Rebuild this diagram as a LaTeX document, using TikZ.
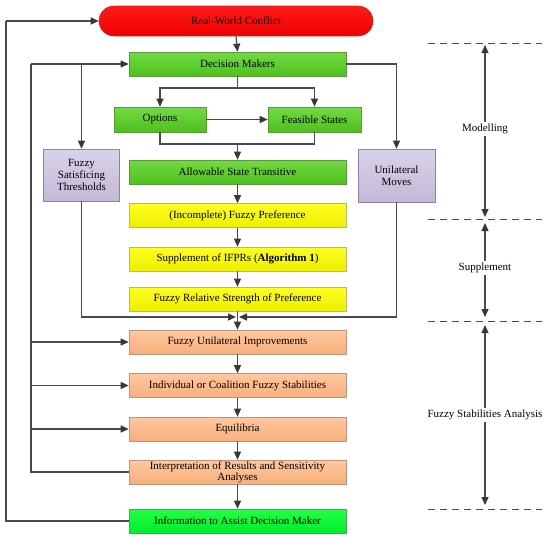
\documentclass[tikz,border=0pt]{standalone}
\usepackage{fontspec}
\setmainfont{Liberation Serif}
\usetikzlibrary{arrows.meta}
\definecolor{ln}{HTML}{4A4A4A}
\definecolor{tip}{HTML}{383838}
\tikzset{
  every node/.style={font=\fontsize{11}{12}\selectfont, text=black},
  box/.style={draw, line width=0.6pt, inner sep=1pt, align=center, anchor=center},
  wbox/.style={box, minimum width=217pt, minimum height=24pt},
  greenbox/.style={top color=green1, bottom color=green2, draw=greenB},
  yellowbox/.style={top color=yel1, bottom color=yel2, draw=yelB},
  orangebox/.style={top color=or1, bottom color=or2, draw=orB},
  purplebox/.style={top color=pu1, bottom color=pu2, draw=puB},
  conn/.style={draw=ln, line width=1.2pt},
  arr/.style={conn, -{Triangle[length=8pt,width=7pt,fill=tip,color=tip]}},
  darr/.style={conn, {Triangle[length=8pt,width=7pt,fill=tip,color=tip]}-{Triangle[length=8pt,width=7pt,fill=tip,color=tip]}},
  sep/.style={draw=ln, line width=1pt, dash pattern=on 7pt off 5pt},
  lbl/.style={fill=white, inner sep=2pt}
}
\definecolor{green1}{HTML}{72DA42}
\definecolor{green2}{HTML}{4EC01E}
\definecolor{greenB}{HTML}{5A9A3A}
\definecolor{yel1}{HTML}{FFFF22}
\definecolor{yel2}{HTML}{EEEE00}
\definecolor{yelB}{HTML}{B8B870}
\definecolor{or1}{HTML}{FFC8A0}
\definecolor{or2}{HTML}{F8AE7C}
\definecolor{orB}{HTML}{C09478}
\definecolor{pu1}{HTML}{DAD2EA}
\definecolor{pu2}{HTML}{C4B8D8}
\definecolor{puB}{HTML}{9080A8}
\definecolor{red1}{HTML}{FF1A1A}
\definecolor{red2}{HTML}{EE0000}
\definecolor{redB}{HTML}{B83030}
\definecolor{inf1}{HTML}{22FF44}
\definecolor{inf2}{HTML}{00EE2C}
\definecolor{infB}{HTML}{50A060}
\begin{document}
\begin{tikzpicture}[x=1pt,y=-1pt]
\useasboundingbox (0,0) rectangle (550,539);
% nodes
\node[box, top color=red1, bottom color=red2, draw=redB, minimum width=274pt, minimum height=30pt, rounded corners=15pt] (rwc) at (236,21) {Real-World Conflict};
\node[wbox, greenbox] (dm) at (237.5,64) {Decision Makers};
\node[box, greenbox, minimum width=92pt, minimum height=25pt] (opt) at (160,119.5) {Options};
\node[box, greenbox, minimum width=93pt, minimum height=25pt] (fs) at (314.5,119.5) {Feasible States};
\node[wbox, greenbox] (ast) at (237.5,172) {Allowable State Transitive};
\node[box, purplebox, minimum width=76pt, minimum height=52pt] (fst) at (81.5,175) {Fuzzy\\Satisficing\\Thresholds};
\node[box, purplebox, minimum width=77pt, minimum height=53pt] (um) at (396.5,175.5) {Unilateral\\Moves};
\node[wbox, yellowbox] (ifp) at (237.5,215.5) {(Incomplete) Fuzzy Preference};
\node[wbox, yellowbox] (sup) at (237.5,259) {Supplement of IFPRs (\textbf{Algorithm 1})};
\node[wbox, yellowbox] (frs) at (237.5,299) {Fuzzy Relative Strength of Preference};
\node[wbox, orangebox] (fui) at (237.5,342) {Fuzzy Unilateral Improvements};
\node[wbox, orangebox] (ics) at (237.5,385.5) {Individual or Coalition Fuzzy Stabilities};
\node[wbox, orangebox] (eq) at (237.5,429) {Equilibria};
\node[wbox, orangebox, font=\fontsize{11}{11}\selectfont] (irs) at (237.5,472) {Interpretation of Results and Sensitivity\\Analyses};
\node[wbox, top color=inf1, bottom color=inf2, draw=infB] (info) at (237.5,521) {Information to Assist Decision Maker};
% junction coordinates
\coordinate (j1) at (237.5,88);
\coordinate (j2) at (237.5,144);
\coordinate (m) at (237.5,317);
\coordinate (L1) at (31,64);
\coordinate (L2) at (31,472);
\coordinate (O1) at (6,21);
\coordinate (O2) at (6,521);
\coordinate (bfst) at (81.5,64);
\coordinate (bfui) at (31,342);
\coordinate (bics) at (31,385.5);
\coordinate (beq) at (31,429);
% main flow
\draw[arr] (rwc.south) -- (dm.north);
\draw[conn] (dm.south) -- (j1);
\draw[arr] (j1) -| (opt.north);
\draw[arr] (j1) -| (fs.north);
\draw[arr] (opt.east) -- (fs.west);
\draw[conn] (opt.south) |- (j2) -| (fs.south);
\draw[arr] (j2) -- (ast.north);
\draw[arr] (ast.south) -- (ifp.north);
\draw[arr] (ifp.south) -- (sup.north);
\draw[arr] (sup.south) -- (frs.north);
\draw[arr] (frs.south) -- (fui.north);
\draw[arr, shorten >=1.5pt] (fst.south) |- (m);
\draw[arr, shorten >=1.5pt] (um.south) |- (m);
\draw[arr] (dm.east) -| (um.north);
\draw[arr] (fui.south) -- (ics.north);
\draw[arr] (ics.south) -- (eq.north);
\draw[arr] (eq.south) -- (irs.north);
\draw[arr] (irs.south) -- (info.north);
% feedback loops
\draw[conn] (irs.west) -- (L2) -- (L1);
\draw[arr] (L1) -- (dm.west);
\draw[arr] (bfst) -- (fst.north);
\draw[arr] (bfui) -- (fui.west);
\draw[arr] (bics) -- (ics.west);
\draw[arr] (beq) -- (eq.west);
\draw[conn] (info.west) -- (O2) -- (O1);
\draw[arr] (O1) -- (rwc.west);
% phases
\coordinate (s1a) at (428,43); \coordinate (s1b) at (542,43);
\coordinate (s2a) at (428,219); \coordinate (s2b) at (542,219);
\coordinate (s3a) at (428,321); \coordinate (s3b) at (542,321);
\coordinate (s4a) at (428,509); \coordinate (s4b) at (542,509);
\draw[sep] (s1a) -- (s1b);
\draw[sep] (s2a) -- (s2b);
\draw[sep] (s3a) -- (s3b);
\draw[sep] (s4a) -- (s4b);
\coordinate (p1) at (485,43); \coordinate (p2) at (485,219);
\coordinate (p3) at (485,321); \coordinate (p4) at (485,509);
\draw[darr, shorten <=2pt, shorten >=2pt] (p1) -- (p2);
\draw[darr, shorten <=4pt, shorten >=4pt] (p2) -- (p3);
\draw[darr, shorten <=4pt, shorten >=4pt] (p3) -- (p4);
\node[lbl] (mod) at (485,129) {Modelling};
\node[lbl] (supl) at (485,268) {Supplement};
\node[lbl] (fsa) at (485,415) {Fuzzy Stabilities Analysis};
\end{tikzpicture}
\end{document}
